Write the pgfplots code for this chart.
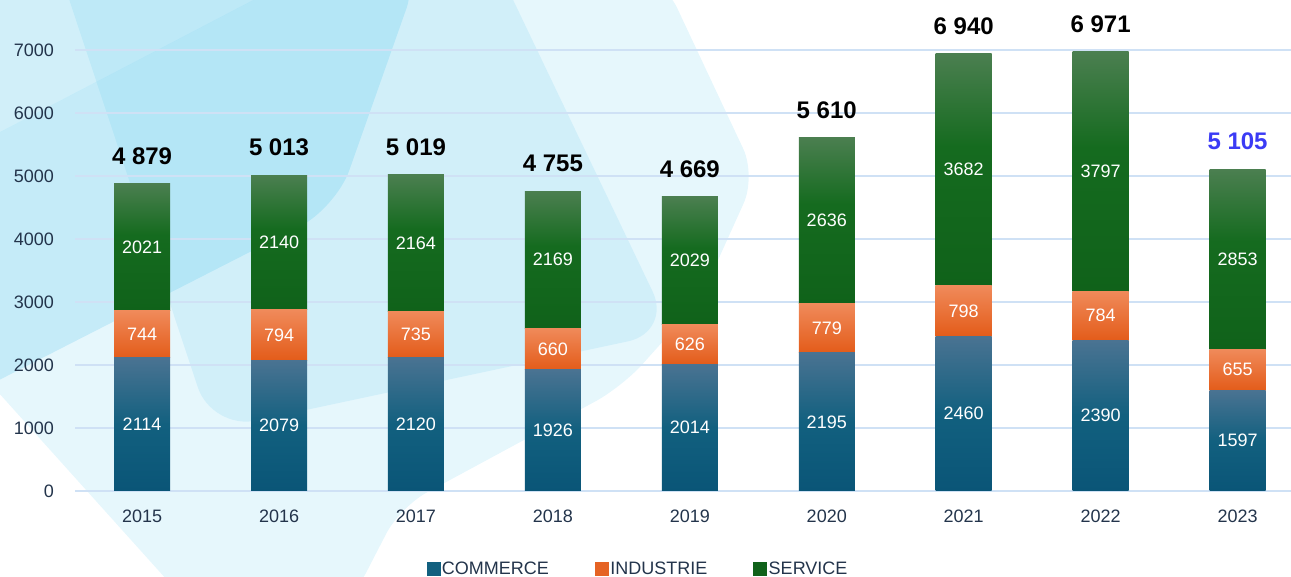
\documentclass[border=0pt]{standalone}
\usepackage{pgfplots}
\usepackage{pgfplotstable}
\pgfplotsset{compat=1.18}
\usepackage{fontspec}
\setmainfont{Liberation Sans}
\definecolor{tickc}{HTML}{23344B}
\definecolor{gridc}{HTML}{CFE1F5}
\definecolor{commT}{HTML}{4A7392}
\definecolor{commM}{HTML}{12607F}
\definecolor{commB}{HTML}{0A5577}
\definecolor{indT}{HTML}{F08A5A}
\definecolor{indB}{HTML}{E35C1A}
\definecolor{servT}{HTML}{4B7F50}
\definecolor{servM}{HTML}{156B1F}
\definecolor{servB}{HTML}{10621A}
\definecolor{totblue}{HTML}{3B3BF5}
\definecolor{bgc}{HTML}{4FC3EA}
\pgfdeclareverticalshading{commshade}{100bp}{color(0bp)=(commB); color(25bp)=(commB); color(50bp)=(commM); color(75bp)=(commT); color(100bp)=(commT)}
\pgfdeclareverticalshading{indshade}{100bp}{color(0bp)=(indB); color(25bp)=(indB); color(75bp)=(indT); color(100bp)=(indT)}
\pgfdeclareverticalshading{servshade}{100bp}{color(0bp)=(servB); color(25bp)=(servB); color(55bp)=(servM); color(75bp)=(servT); color(100bp)=(servT)}
\pgfplotstableread{
x comm ind serv total
0 2114 744 2021 4879
1 2079 794 2140 5013
2 2120 735 2164 5019
3 1926 660 2169 4755
4 2014 626 2029 4669
5 2195 779 2636 5610
6 2460 798 3682 6940
7 2390 784 3797 6971
8 1597 655 2853 5105
}\datatable
\pgfplotsset{common/.style={
  at={(75pt,86pt)}, anchor=south west,
  scale only axis, width=1216pt, height=441pt,
  xmin=-0.49, xmax=8.39, ymin=0, ymax=7000, clip=false}}
\begin{document}
\begin{tikzpicture}
\useasboundingbox (0,0) rectangle (1291pt,577pt);
\begin{scope}
\clip (0,0) rectangle (1291pt,577pt);
\begin{scope}[x=1pt,y=-1pt,yshift=577pt]
% big pale shape
\fill[bgc,fill opacity=0.14,rounded corners=30pt] (-20,-20) -- (664,-20) -- (756,176) -- (700,300) -- (622,387) -- (400,507) -- (352,600) -- (185,600) -- (-20,372) -- cycle;
% top-left corner (shares the band's upper edge)
\fill[bgc,fill opacity=0.14] (-40,-40) -- (330,-40) -- (-40,153) -- cycle;
% steep band
\fill[bgc,fill opacity=0.14,rounded corners=45pt] (56,-40) -- (494,-40) -- (672,332) -- (212,430) -- cycle;
% diagonal band
\fill[bgc,fill opacity=0.22,rounded corners=40pt] (-40,153) -- (330,-40) -- (420,-30) -- (336,208) -- (-40,400) -- cycle;
\end{scope}
\end{scope}
% base axis: grid, ticks, legend
\begin{axis}[common,
  xtick={0,1,2,3,4,5,6,7,8},
  xticklabels={2015,2016,2017,2018,2019,2020,2021,2022,2023},
  ytick={0,1000,2000,3000,4000,5000,6000,7000},
  ymajorgrids, grid style={gridc, line width=1.6pt},
  axis line style={draw=none}, major tick length=0pt,
  tick label style={font=\fontsize{18}{20}\selectfont, text=tickc},
  /pgf/number format/assume math mode=true,
  /pgf/number format/set thousands separator={},
  yticklabel style={anchor=east, inner sep=0pt, xshift=-21pt},
  xticklabel style={anchor=north, inner sep=0pt, yshift=-19pt},
  legend style={at={(0.463,-0.177)}, anchor=center, legend columns=-1, draw=none, fill=none,
    font=\fontsize{18}{20}\selectfont, text=tickc, inner sep=0pt,
    /tikz/every even column/.append style={column sep=44pt}},
  legend cell align=left,
]
\addlegendimage{legend image code/.code={\fill[commM] (0pt,-6.5pt) rectangle (13pt,6.5pt);}}
\addlegendentry{COMMERCE}
\addlegendimage{legend image code/.code={\fill[indB!85!indT] (0pt,-6.5pt) rectangle (13pt,6.5pt);}}
\addlegendentry{INDUSTRIE}
\addlegendimage{legend image code/.code={\fill[servB] (0pt,-6.5pt) rectangle (13pt,6.5pt);}}
\addlegendentry{SERVICE}
\end{axis}
% bars, one axis per year so that each segment gets its own gradient
\foreach \i in {0,...,8}{
\begin{axis}[common, hide axis, ybar stacked, bar width=56pt]
\addplot[draw=none, shade, shading=commshade, restrict x to domain=\i:\i] table[x=x, y=comm] {\datatable};
\addplot[draw=none, shade, shading=indshade, restrict x to domain=\i:\i] table[x=x, y=ind] {\datatable};
\addplot[draw=none, shade, shading=servshade, restrict x to domain=\i:\i] table[x=x, y=serv] {\datatable};
\end{axis}
}
% labels
\begin{axis}[common, hide axis,
  /pgf/number format/assume math mode=true,
  /pgf/number format/set thousands separator={},
  nodes near coords style={font=\fontsize{18}{20}\selectfont, text=white, anchor=center, inner sep=0pt},
]
\addplot[draw=none, mark=none, nodes near coords, point meta=\thisrow{comm}] table[x=x, y expr=\thisrow{comm}/2] {\datatable};
\addplot[draw=none, mark=none, nodes near coords, point meta=\thisrow{ind}] table[x=x, y expr=\thisrow{comm}+\thisrow{ind}/2] {\datatable};
\addplot[draw=none, mark=none, nodes near coords, point meta=\thisrow{serv}] table[x=x, y expr=\thisrow{comm}+\thisrow{ind}+\thisrow{serv}/2] {\datatable};
\end{axis}
\begin{axis}[common, hide axis,
  nodes near coords style={font=\bfseries\fontsize{24}{26}\selectfont, anchor=south, inner sep=0pt, yshift=19pt},
]
\addplot[draw=none, mark=none, nodes near coords, point meta=explicit symbolic]
 coordinates {(0,4879)[4 879] (1,5013)[5 013] (2,5019)[5 019] (3,4755)[4 755] (4,4669)[4 669] (5,5610)[5 610] (6,6940)[6 940] (7,6971)[6 971]};
\addplot[draw=none, mark=none, nodes near coords, point meta=explicit symbolic, nodes near coords style={text=totblue}]
 coordinates {(8,5105)[5 105]};
\end{axis}
\end{tikzpicture}
\end{document}
